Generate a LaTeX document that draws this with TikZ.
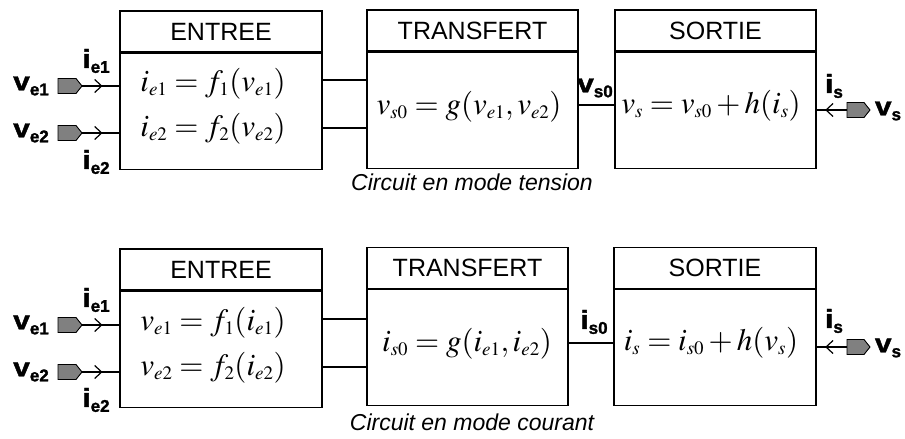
\documentclass[tikz,border=0pt]{standalone}
\usepackage{mathptmx}
\usepackage[no-math]{fontspec}
\setmainfont{Liberation Sans}
\newfontfamily\labfont{Liberation Sans}[BoldFeatures={FakeBold=1.5}]
\usetikzlibrary{arrows.meta,decorations.markings,calc}
\DeclareMathSizes{31}{31}{19}{14}
\newcommand\sig[2]{{\labfont\bfseries{\fontsize{26}{26}\selectfont\scalebox{1.15}[1]{#1}}{\fontsize{17}{17}\selectfont\raisebox{-5pt}{#2}}}}
\newcommand\fml[1]{{\fontsize{31}{33}\selectfont$#1$}}
\begin{document}
\begin{tikzpicture}[x=1pt,y=-1pt,
  hdr/.style={draw, line width=1.3pt, inner sep=0pt, font=\fontsize{25}{25}\selectfont},
  bodybox/.style={draw, line width=1.3pt, inner sep=0pt},
  portfill/.style={draw, line width=0.9pt, fill=black!50, line join=miter},
  wire/.style={line width=1.2pt},
  inarrow/.style={line width=1.2pt, postaction={decorate}, decoration={markings, mark=at position #1 with {\arrow{Straight Barb[length=7pt,width=13pt,line width=1.2pt]}}}},
  captext/.style={font=\fontsize{23}{23}\selectfont\itshape, anchor=base},
  lbl/.style={inner sep=0pt}
]
\useasboundingbox (0,0) rectangle (905,439);

% right-pointing port: tip at the given coordinate
\newcommand\portR[1]{\draw[portfill] ($(#1)+(-24,-7.5)$) -- ($(#1)+(-6,-7.5)$) -- (#1) -- ($(#1)+(-6,7.5)$) -- ($(#1)+(-24,7.5)$) -- cycle;}
% right-pointing port: back side at the given coordinate
\newcommand\portL[1]{\draw[portfill] ($(#1)+(0,-7.5)$) -- ($(#1)+(17,-7.5)$) -- ($(#1)+(23,0)$) -- ($(#1)+(17,7.5)$) -- ($(#1)+(0,7.5)$) -- cycle;}

% ---------------- top: tension ----------------
\node[hdr, minimum width=202pt, minimum height=41pt] (e1h) at (221,31.5) {ENTREE};
\node[bodybox, minimum width=202pt, minimum height=116pt, anchor=north] (e1b) at (e1h.south) {};
\node[hdr, minimum width=211pt, minimum height=41pt] (t1h) at (472.5,30.5) {TRANSFERT};
\node[bodybox, minimum width=211pt, minimum height=116pt, anchor=north] (t1b) at (t1h.south) {};
\node[hdr, minimum width=201pt, minimum height=41pt] (s1h) at (715.5,30.5) {SORTIE};
\node[bodybox, minimum width=201pt, minimum height=116pt, anchor=north] (s1b) at (s1h.south) {};

\node[anchor=base] (fe11) at (213,91) {\fml{i_{e1}=f_1(v_{e1})}};
\node[anchor=base] (fe12) at (213,136) {\fml{i_{e2}=f_2(v_{e2})}};
\node[anchor=base] (ft1) at (469,114) {\fml{v_{s0}=g(v_{e1},v_{e2})}};
\node[anchor=base] (fs1) at (711,113) {\fml{v_s=v_{s0}+h(i_s)}};

\coordinate (c11) at (322,80);
\coordinate (c12) at (322,128);
\draw[wire] (c11) -- (t1b.west |- c11);
\draw[wire] (c12) -- (t1b.west |- c12);
\coordinate (c13) at (578,105);
\draw[wire] (c13) -- (s1b.west |- c13);

\coordinate (pe11) at (82,86);
\coordinate (pe12) at (82,133);
\portR{pe11}
\portR{pe12}
\draw[inarrow=0.55] (pe11) -- (e1b.west |- pe11);
\draw[inarrow=0.55] (pe12) -- (e1b.west |- pe12);
\coordinate (ps1) at (847,110);
\portL{ps1}
\draw[inarrow=0.72] (ps1) -- (s1b.east |- ps1);

\node[lbl] (lv11) at (31,86) {\sig{v}{e1}};
\node[lbl] (lv12) at (31,133) {\sig{v}{e2}};
\node[lbl] (li11) at (96,61) {\sig{i}{e1}};
\node[lbl] (li12) at (96,162) {\sig{i}{e2}};
\node[lbl] (lvs01) at (595,88) {\sig{v}{s0}};
\node[lbl] (lis1) at (834,86) {\sig{i}{s}};
\node[lbl] (lvs1) at (888,111) {\sig{v}{s}};

\node[captext] (cap1) at (472,190) {Circuit en mode tension};

% ---------------- bottom: courant ----------------
\node[hdr, minimum width=202pt, minimum height=41pt] (e2h) at (221,269.5) {ENTREE};
\node[bodybox, minimum width=202pt, minimum height=116pt, anchor=north] (e2b) at (e2h.south) {};
\node[hdr, minimum width=201pt, minimum height=41pt] (t2h) at (467.5,268) {TRANSFERT};
\node[bodybox, minimum width=201pt, minimum height=116pt, anchor=north] (t2b) at (t2h.south) {};
\node[hdr, minimum width=202pt, minimum height=41pt] (s2h) at (715,268) {SORTIE};
\node[bodybox, minimum width=202pt, minimum height=116pt, anchor=north] (s2b) at (s2h.south) {};

\node[anchor=base] (fe21) at (213,330) {\fml{v_{e1}=f_1(i_{e1})}};
\node[anchor=base] (fe22) at (213,375) {\fml{v_{e2}=f_2(i_{e2})}};
\node[anchor=base] (ft2) at (467,351) {\fml{i_{s0}=g(i_{e1},i_{e2})}};
\node[anchor=base] (fs2) at (711,350) {\fml{i_s=i_{s0}+h(v_s)}};

\coordinate (c21) at (322,319);
\coordinate (c22) at (322,367);
\draw[wire] (c21) -- (t2b.west |- c21);
\draw[wire] (c22) -- (t2b.west |- c22);
\coordinate (c23) at (568,343);
\draw[wire] (c23) -- (s2b.west |- c23);

\coordinate (pe21) at (82,325);
\coordinate (pe22) at (82,372);
\portR{pe21}
\portR{pe22}
\draw[inarrow=0.55] (pe21) -- (e2b.west |- pe21);
\draw[inarrow=0.55] (pe22) -- (e2b.west |- pe22);
\coordinate (ps2) at (847,347);
\portL{ps2}
\draw[inarrow=0.72] (ps2) -- (s2b.east |- ps2);

\node[lbl] (lv21) at (31,325) {\sig{v}{e1}};
\node[lbl] (lv22) at (31,372) {\sig{v}{e2}};
\node[lbl] (li21) at (96,300) {\sig{i}{e1}};
\node[lbl] (li22) at (96,400) {\sig{i}{e2}};
\node[lbl] (lis02) at (594,322) {\sig{i}{s0}};
\node[lbl] (lis2) at (834,321) {\sig{i}{s}};
\node[lbl] (lvs2) at (888,348) {\sig{v}{s}};

\node[captext] (cap2) at (472,430) {Circuit en mode courant};
\end{tikzpicture}
\end{document}
